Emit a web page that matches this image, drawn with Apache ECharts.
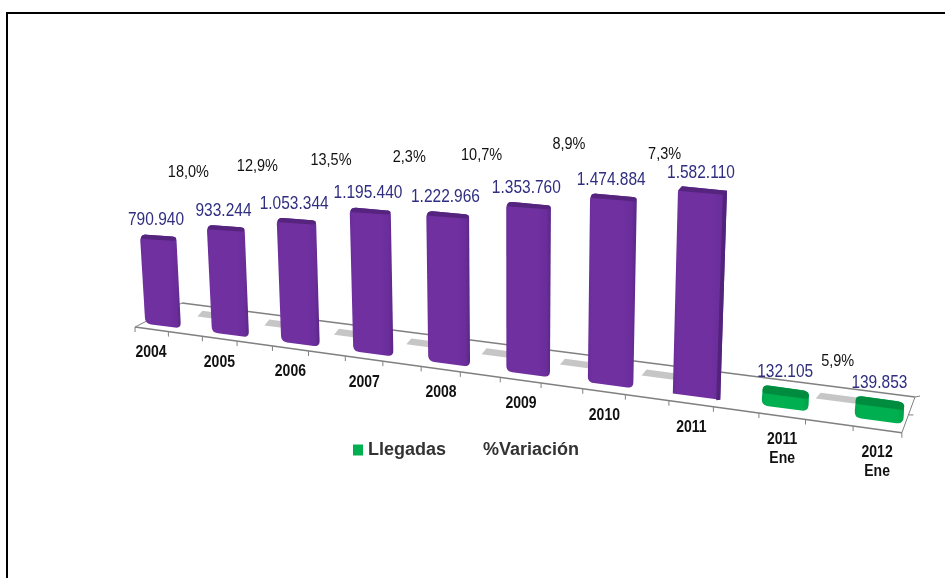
<!DOCTYPE html>
<html>
<head>
<meta charset="utf-8">
<style>html,body{margin:0;padding:0;background:#fff}#c{width:945px;height:578px}</style>
<script src="https://cdn.jsdelivr.net/npm/echarts@6/dist/echarts.min.js"></script>
</head>
<body>
<div id="c"></div>
<script>
// ---- data ----
const categories = ['2004','2005','2006','2007','2008','2009','2010','2011','2011\nEne','2012\nEne'];
const arrivals = [790940,933244,1053344,1195440,1222966,1353760,1474884,1582110,132105,139853];
const variation = [18.0,12.9,13.5,2.3,10.7,8.9,7.3,5.9];
const variationFrom = [0,1,2,3,4,5,6,8];   // category each change starts from

// ---- layout of the tilted view (flat grid -> perspective picture) ----
const pctLift = [144,159,174,187,199,220,221,37];
const pctShift = [-9,-7,-3,3,0,9,23,22];
const PERSP = -2.869e-4, LEAN = 1.55e-4, LEAN_X = 512;
const BASE_SLOPE = 0.1325, FRONT_Y = 327, FRONT_X = 135, FRONT_SLOPE = 0.138;
const TICK_START = -0.427, TICK_STEP = 0.508, TICK_COUNT = 20, HALF_BAR = 0.27;
const TEXT_STRETCH = 1.14;
const backCorner = [182,303], rightBack = [915,397];

const fmtVal = v => String(v).replace(/\B(?=(\d{3})+(?!\d))/g,'.');
const fmtPct = v => v.toFixed(1).replace('.',',')+'%';

function view(api){
  const o = api.coord([0,0]), one = api.coord([1,0]);
  const step = one[0]-o[0];
  const sc = X => 1/(1+PERSP*X);
  const xAt = X => o[0]+X*sc(X);
  const baseY = x => o[1]+BASE_SLOPE*(x-o[0]);
  const frontY = x => FRONT_Y+FRONT_SLOPE*(x-FRONT_X);
  // flat offset X from first category + value -> picture point
  const P = (X,v) => {
    const x = xAt(X);
    const h = (o[1]-api.coord([0,v])[1])*sc(X);
    return [x+(x-LEAN_X)*LEAN*h, baseY(x)-h];
  };
  return {o,step,sc,xAt,baseY,frontY,P};
}
function rounded(pts,radii){
  const out=[], n=pts.length;
  for(let i=0;i<n;i++){
    const p=pts[i], a=pts[(i+n-1)%n], b=pts[(i+1)%n], r=radii[i];
    if(!r){out.push(p);continue;}
    const la=Math.hypot(a[0]-p[0],a[1]-p[1]), lb=Math.hypot(b[0]-p[0],b[1]-p[1]);
    const ra=Math.min(r,la/2), rb=Math.min(r,lb/2);
    const s=[p[0]+(a[0]-p[0])*ra/la,p[1]+(a[1]-p[1])*ra/la];
    const e=[p[0]+(b[0]-p[0])*rb/lb,p[1]+(b[1]-p[1])*rb/lb];
    for(let t=0;t<=6;t++){
      const u=t/6,w=1-u;
      out.push([w*w*s[0]+2*w*u*p[0]+u*u*e[0], w*w*s[1]+2*w*u*p[1]+u*u*e[1]]);
    }
  }
  return out;
}
const hGrad = stops => ({type:'linear',x:0,y:0,x2:1,y2:0,colorStops:stops.map(s=>({offset:s[0],color:s[1]}))});
const PURPLE = hGrad([[0,'#682c98'],[0.08,'#7030a0'],[0.72,'#7030a0'],[0.9,'#6a2d9a'],[1,'#5a2686']]);
const GREEN = hGrad([[0,'#00a84c'],[0.1,'#00b050'],[0.85,'#00b050'],[1,'#00a048']]);

const stretched = (text,x,y,fill,font,extra) => ({
  type:'text',x,y,scaleY:TEXT_STRETCH,
  style:Object.assign({text,x:0,y:0,align:'center',verticalAlign:'middle',fill,font},extra||{})
});

function renderFloor(params,api){
  const V=view(api), children=[];
  const line=(a,b,w)=>({type:'line',shape:{x1:a[0],y1:a[1],x2:b[0],y2:b[1]},style:{stroke:'#808080',lineWidth:w||1.6}});
  const xs=[];
  for(let j=0;j<TICK_COUNT;j++) xs.push(V.xAt((TICK_START+TICK_STEP*j)*V.step));
  xs.forEach(x=>children.push(line([x,V.frontY(x)],[x,V.frontY(x)+5],1)));
  const L=[xs[0],V.frontY(xs[0])], R=[xs[TICK_COUNT-1],V.frontY(xs[TICK_COUNT-1])];
  children.push(line(L,R));
  children.push(line(L,backCorner,1));
  children.push(line(backCorner,rightBack));
  children.push(line(R,rightBack,1));
  children.push(line([rightBack[0],rightBack[1]],[rightBack[0]+5,rightBack[1]-1],1));
  const mid=[(R[0]+rightBack[0])/2,(R[1]+rightBack[1])/2];
  children.push(line(mid,[mid[0]+5,mid[1]],1));
  return {type:'group',children};
}
function renderVariation(params,api){
  const V=view(api), i=params.dataIndex, from=variationFrom[i];
  const u=from+0.5-0.024*from;
  const x0=V.xAt(u*V.step)+1, x1=V.xAt((u+0.62)*V.step);
  const yb=x=>V.baseY(x)-14;
  return {type:'group',children:[
    {type:'polygon',shape:{points:[[x0,yb(x0)],[x0+5,yb(x0+5)-6.5],[x1+5,yb(x1+5)-6.5],[x1,yb(x1)]]},style:{fill:'#c6c6c6'}},
    stretched(fmtPct(variation[i]),x0+pctShift[i],yb(x0)-pctLift[i],'#111','14.5px "Liberation Sans"')
  ]};
}
function renderBar(params,api){
  const V=view(api), i=params.dataIndex, v=arrivals[i];
  const X=i*V.step, hw=HALF_BAR*V.step;
  const green=i>7, square=i===7;
  const l=X-hw, r=X+hw-(green?2:0);
  const cap=green?8:4;
  const BL=V.P(l,0),BR=V.P(r,0);
  let TL=V.P(l,v),TR=V.P(r,v);
  if(green){ TL=[TL[0],TL[1]-2.5]; TR=[TR[0],TR[1]-2.5]; }
  else { const t=0.9*(1-i/7); TL=[TL[0],TL[1]+t]; TR=[TR[0],TR[1]-t]; }
  const inset=green?1:(square?4:2.5);
  const backL=[TL[0]+inset,TL[1]-0.5], backR=TR;
  const frontL=[TL[0],TL[1]+cap], frontR=[TR[0]-(square?4:0.5),TR[1]+cap];
  const rb=green?7:(square?0:6), rt=green?7:(square?0:4);
  const body=rounded([BL,BR,backR,backL,frontL],[rb,rb,rt,rt,green?rt:2]);
  const capPts=rounded([frontL,backL,backR,frontR],[square?0:3,rt,rt,square?0:3]);
  const children=[{type:'polygon',shape:{points:body},style:{fill:green?GREEN:PURPLE}}];
  if(square){
    const bf=[BR[0]-4,BR[1]+0.5];
    children.push({type:'polygon',shape:{points:[bf,BR,backR,frontR]},style:{fill:'#52237a'}});
  }
  children.push({type:'polygon',shape:{points:capPts},style:{fill:green?'#008c3f':'#55247e'}});
  const cx=(backL[0]+backR[0])/2, cy=(backL[1]+backR[1])/2;
  children.push(stretched(fmtVal(v),cx-(green?1:3.5),cy-15.5,'#2f2e80','15.5px "Liberation Sans"'));
  // category label under the front edge
  const lx=V.o[0]+X*V.sc(X)-12+i;
  const lines=categories[i].split('\n');
  const ly=V.frontY(lx)+23.5+(lines.length-1)*9.5;
  children.push(stretched(categories[i],lx,ly,'#111','bold 14px "Liberation Sans"',{lineHeight:16.7}));
  return {type:'group',children};
}

const chart = echarts.init(document.getElementById('c'),null,{renderer:'canvas'});
chart.setOption({
  animation:false,
  backgroundColor:'#fff',
  grid:{left:130,top:120.8,width:660.8,height:205.2,show:false},
  xAxis:{type:'category',data:categories,show:false},
  yAxis:{type:'value',min:0,max:1800000,show:false},
  legend:{
    left:348,top:436,itemWidth:10,itemHeight:11,itemGap:22,
    data:[{name:'Llegadas',icon:'rect'},{name:'%Variación',icon:'none'}],
    textStyle:{fontFamily:'Liberation Sans',fontWeight:'bold',fontSize:18,color:'#333'},
    selectedMode:false
  },
  graphic:[{type:'rect',silent:true,z:-1,shape:{x:7,y:13,width:1200,height:1200},style:{fill:'none',stroke:'#000',lineWidth:2}}],
  series:[
    {name:'floor',type:'custom',silent:true,z:1,data:[[0,0]],renderItem:renderFloor,clip:false},
    {name:'%Variación',type:'custom',silent:true,z:2,data:variation.map((v,i)=>[variationFrom[i],v]),renderItem:renderVariation,clip:false,itemStyle:{color:'#c9c9c9'}},
    {name:'Llegadas',type:'custom',silent:true,z:3,data:arrivals.map((v,i)=>[i,v]),renderItem:renderBar,clip:false,itemStyle:{color:'#00b050'}}
  ]
});
</script>
</body>
</html>
